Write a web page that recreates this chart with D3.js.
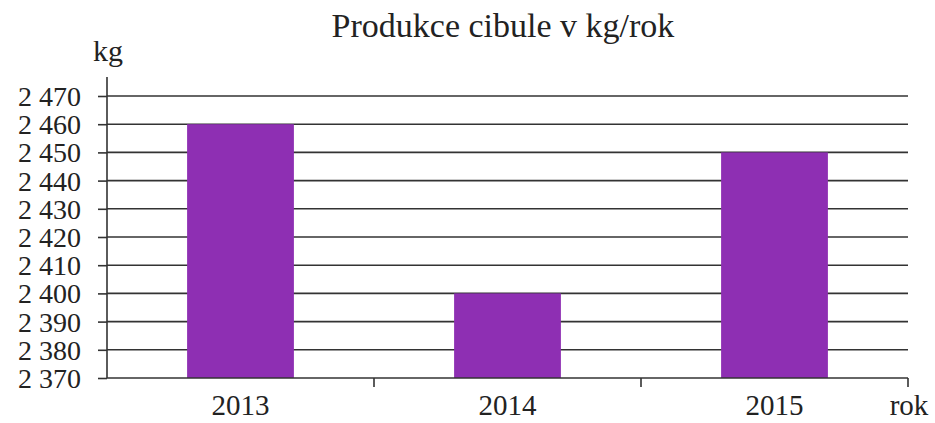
<!DOCTYPE html>
<html>
<head>
<meta charset="utf-8">
<script src="https://cdn.jsdelivr.net/npm/d3@7"></script>
<style>
  body { margin: 0; background: #fff; }
</style>
</head>
<body>
<div id="chart"></div>
<script>
var years = ["2013", "2014", "2015"];
var values = [2460, 2400, 2450];
var yTicks = [2370, 2380, 2390, 2400, 2410, 2420, 2430, 2440, 2450, 2460, 2470];

var serif = "'Liberation Serif', 'DejaVu Serif', serif";
var svgWidth = 935, svgHeight = 423;
var margin = { top: 96, right: 27, bottom: 45, left: 107 };
var width = svgWidth - margin.left - margin.right;
var height = svgHeight - margin.top - margin.bottom;

var svg = d3.select('#chart').append("svg")
  .attr("width", svgWidth)
  .attr("height", svgHeight)
  .attr("font-family", serif);

var g = svg.append("g")
  .attr("transform", "translate(" + margin.left + "," + margin.top + ")");

var x = d3.scaleBand().domain(years).range([0, width]).padding(0);
var y = d3.scaleLinear().domain([2370, 2470]).range([height, 0]);

var fmt = d3.formatLocale({ decimal: ",", thousands: " ", grouping: [3], currency: ["", " Kč"] }).format(",d");

// gridlines
g.append("g")
  .selectAll("line")
  .data(yTicks.slice(1))
  .enter().append("line")
  .attr("x1", 0)
  .attr("x2", width)
  .attr("y1", function(d) { return y(d); })
  .attr("y2", function(d) { return y(d); })
  .attr("stroke", "#333")
  .attr("stroke-width", 1.6);

// bars
g.append("g")
  .selectAll("rect")
  .data(values)
  .enter().append("rect")
  .attr("x", function(d, i) { return x(years[i]) + x.bandwidth() * 0.3; })
  .attr("width", x.bandwidth() * 0.4)
  .attr("y", function(d) { return y(d); })
  .attr("height", function(d) { return height - y(d); })
  .attr("fill", "#8e2fb3");

// y axis
var yAxis = g.append("g")
  .call(d3.axisLeft(y).tickValues(yTicks).tickSize(9).tickPadding(17).tickFormat(fmt));
yAxis.attr("font-family", serif);
yAxis.select(".domain").attr("d", "M0,-19V" + height).attr("stroke", "#333").attr("stroke-width", 1.6);
yAxis.selectAll(".tick line").attr("stroke", "#333").attr("stroke-width", 1.6);
yAxis.selectAll(".tick text").attr("font-size", 28).attr("fill", "#222").attr("dy", "0.34em");

// x axis
var xAxis = g.append("g")
  .attr("transform", "translate(0," + height + ")")
  .call(d3.axisBottom(x).tickSize(0).tickPadding(19));
xAxis.attr("font-family", serif);
xAxis.select(".domain").attr("d", "M0,0H" + width).attr("stroke", "#333").attr("stroke-width", 1.6);
xAxis.selectAll(".tick text").attr("font-size", 29).attr("fill", "#222").attr("dy", "0.62em");

// category boundary ticks
xAxis.append("g")
  .selectAll("line")
  .data(years)
  .enter().append("line")
  .attr("x1", function(d) { return x(d) + x.bandwidth(); })
  .attr("x2", function(d) { return x(d) + x.bandwidth(); })
  .attr("y1", 0)
  .attr("y2", 9)
  .attr("stroke", "#333")
  .attr("stroke-width", 1.6);

// labels
svg.append("text")
  .attr("x", 503)
  .attr("y", 37)
  .attr("text-anchor", "middle")
  .attr("font-size", 34)
  .attr("fill", "#222")
  .text("Produkce cibule v kg/rok");

svg.append("text")
  .attr("x", 108)
  .attr("y", 61)
  .attr("text-anchor", "middle")
  .attr("font-size", 30)
  .attr("fill", "#222")
  .text("kg");

svg.append("text")
  .attr("x", 909)
  .attr("y", 415)
  .attr("text-anchor", "middle")
  .attr("font-size", 29)
  .attr("fill", "#222")
  .text("rok");
</script>
</body>
</html>
